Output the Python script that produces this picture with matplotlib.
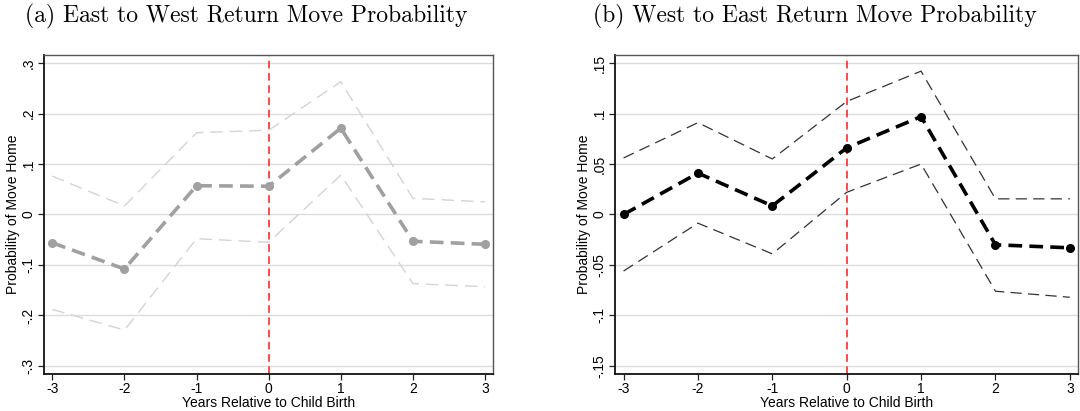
import matplotlib
matplotlib.use("Agg")
import matplotlib.pyplot as plt

# event time
years = [-3, -2, -1, 0, 1, 2, 3]

# (a) East to West
ew_coef = [-0.056, -0.108, 0.057, 0.056, 0.171, -0.053, -0.059]
ew_hi = [0.076, 0.017, 0.162, 0.167, 0.263, 0.032, 0.025]
ew_lo = [-0.188, -0.229, -0.048, -0.055, 0.078, -0.137, -0.143]
ew_ticks = [-0.3, -0.2, -0.1, 0, 0.1, 0.2, 0.3]
ew_ticklabels = ["-.3", "-.2", "-.1", "0", ".1", ".2", ".3"]

# (b) West to East
we_coef = [0.0, 0.041, 0.0085, 0.066, 0.097, -0.030, -0.033]
we_hi = [0.056, 0.091, 0.055, 0.112, 0.142, 0.0155, 0.0155]
we_lo = [-0.056, -0.0086, -0.039, 0.022, 0.050, -0.076, -0.082]
we_ticks = [-0.15, -0.1, -0.05, 0, 0.05, 0.1, 0.15]
we_ticklabels = ["-.15", "-.1", "-.05", "0", ".05", ".1", ".15"]

plt.rcParams["font.family"] = ["Liberation Sans", "DejaVu Sans"]


def draw_panel(ax, coef, hi, lo, ticks, ticklabels, lim, main_col, ci_col, ci_lw):
    for t in ticks:
        ax.axhline(t, color="#dcdcdc", lw=1.0, zorder=0)
    ax.axvline(0, color="#ff1a1a", lw=1.1, ls=(0, (5, 3)), zorder=1)
    ax.plot(years, hi, color=ci_col, lw=ci_lw, ls=(0, (9, 5)), zorder=2)
    ax.plot(years, lo, color=ci_col, lw=ci_lw, ls=(0, (9, 5)), zorder=2)
    ax.plot(years, coef, color=main_col, lw=2.6, ls=(0, (3.8, 2)),
            marker="o", ms=5.5, zorder=3)
    ax.set_xlim(-3.115, 3.11)
    ax.set_ylim(-lim, lim)
    ax.set_xticks(years)
    ax.set_xticklabels([str(y) for y in years], fontsize=10)
    ax.set_yticks(ticks)
    ax.set_yticklabels(ticklabels, fontsize=10, rotation=90, va="center")
    ax.tick_params(length=4, width=0.9, color="#222222", pad=2)
    ax.set_xlabel("Years Relative to Child Birth", fontsize=10, labelpad=0)
    ax.set_ylabel("Probability of Move Home", fontsize=10, labelpad=1)
    for s in ["left", "bottom"]:
        ax.spines[s].set_color("#111111")
        ax.spines[s].set_linewidth(1.3)
    for s in ["top", "right"]:
        ax.spines[s].set_color("#555555")
        ax.spines[s].set_linewidth(1.0)


fig = plt.figure(figsize=(10.8, 4.11), dpi=100)
ax1 = fig.add_axes([44 / 1080, 1 - 374 / 411, 449 / 1080, 319 / 411])
ax2 = fig.add_axes([615 / 1080, 1 - 374 / 411, 463 / 1080, 319 / 411])

draw_panel(ax1, ew_coef, ew_hi, ew_lo, ew_ticks, ew_ticklabels, 0.316,
           "#a0a0a0", "#d4d4d4", 1.0)
draw_panel(ax2, we_coef, we_hi, we_lo, we_ticks, we_ticklabels, 0.158,
           "black", "#333333", 0.9)

fig.text(25 / 1080, 1 - 16 / 411, "(a) East to West Return Move Probability",
         family="cmr10", fontsize=17, va="center", ha="left")
fig.text(593 / 1080, 1 - 16 / 411, "(b) West to East Return Move Probability",
         family="cmr10", fontsize=17, va="center", ha="left")

fig.savefig("out.png", dpi=100)
